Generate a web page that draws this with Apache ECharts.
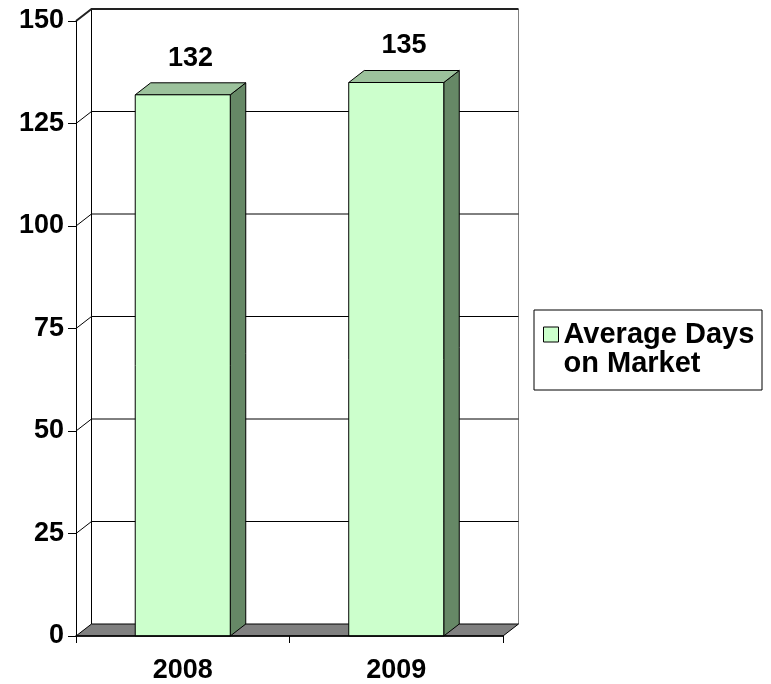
<!DOCTYPE html>
<html>
<head>
<meta charset="utf-8">
<script src="https://cdn.jsdelivr.net/npm/echarts@6/dist/echarts.min.js"></script>
<style>
html,body{margin:0;padding:0;background:#fff;}
#chart{width:771px;height:684px;}
</style>
</head>
<body>
<div id="chart"></div>
<script>
const categories = ['2008', '2009'];
const avgDays = [132, 135];
const yTicks = [0, 25, 50, 75, 100, 125, 150];
const seriesName = 'Average Days on Market';

const FONT = '"Liberation Sans", Arial, sans-serif';
const DX = 15.5, DY = -12;

const chart = echarts.init(document.getElementById('chart'));

function renderWall(params, api) {
  const cs = params.coordSys;
  const t = api.value(1);
  const y = api.coord([0, t])[1];
  const x0 = cs.x, x1 = cs.x + cs.width;
  if (params.dataIndex === 0) {
    return {
      type: 'group',
      children: [
        { type: 'rect', shape: { x: x0 + DX, y: cs.y + DY, width: cs.width, height: cs.height }, style: { fill: '#fff', stroke: null } },
        { type: 'line', shape: { x1: x0 + DX, y1: cs.y + DY, x2: x0 + DX, y2: y + DY }, style: { stroke: '#000', lineWidth: 1 } },
        { type: 'line', shape: { x1: x1 + DX, y1: cs.y + DY, x2: x1 + DX, y2: y + DY }, style: { stroke: '#808080', lineWidth: 1 } },
        { type: 'polygon', shape: { points: [[x0, y], [x1, y], [x1 + DX, y + DY], [x0 + DX, y + DY]] }, style: { fill: '#808080', stroke: '#000', lineWidth: 1 } }
      ]
    };
  }
  const isTop = t === yTicks[yTicks.length - 1];
  return {
    type: 'polyline',
    shape: { points: [[x0, y], [x0 + DX, y + DY], [x1 + DX, y + DY]] },
    style: { stroke: isTop ? '#222' : '#000', lineWidth: isTop ? 2 : 1, fill: null }
  };
}

function renderBar(params, api) {
  const i = api.value(0), v = api.value(1);
  const top = api.coord([i, v]);
  const bot = api.coord([i, 0]);
  const w = api.size([1, 0])[0] * 0.445;
  const xl = top[0] - w / 2, xr = top[0] + w / 2;
  const yt = top[1], yb = bot[1];
  return {
    type: 'group',
    children: [
      { type: 'polygon', shape: { points: [[xr, yt], [xr + DX, yt + DY], [xr + DX, yb + DY], [xr, yb]] }, style: { fill: '#668866', stroke: '#000', lineWidth: 1 } },
      { type: 'polygon', shape: { points: [[xl, yt], [xr, yt], [xr + DX, yt + DY], [xl + DX, yt + DY]] }, style: { fill: '#9CC29C', stroke: '#000', lineWidth: 1 } },
      { type: 'rect', shape: { x: xl, y: yt, width: w, height: yb - yt }, style: { fill: '#CCFFCC', stroke: '#000', lineWidth: 1 } },
      { type: 'text', style: { text: String(v), x: top[0] + DX / 2, y: yt + DY - 11, align: 'center', verticalAlign: 'bottom', fontSize: 27, fontWeight: 'bold', fontFamily: FONT, fill: '#000' } }
    ]
  };
}

const option = {
  animation: false,
  backgroundColor: '#fff',
  grid: { left: 76, right: 268, top: 21, bottom: 47 },
  legend: {
    data: [seriesName],
    left: 543,
    top: 291,
    padding: 0,
    icon: 'rect',
    itemWidth: 15,
    itemHeight: 15,
    itemGap: 0,
    itemStyle: { borderColor: '#000', borderWidth: 1 },
    formatter: function () { return '\nAverage Days\non Market'; },
    textStyle: { fontSize: 29, fontWeight: 'bold', fontFamily: FONT, color: '#000', lineHeight: 29 }
  },
  graphic: [
    { type: 'rect', shape: { x: 534, y: 310, width: 228, height: 80 }, style: { fill: 'none', stroke: '#000', lineWidth: 1 }, z: 100 }
  ],
  xAxis: {
    type: 'category',
    data: categories,
    z: 10,
    axisLine: { lineStyle: { color: '#000', width: 1.5 } },
    axisTick: { show: true, length: 7, lineStyle: { color: '#000' } },
    axisLabel: { fontSize: 27, fontWeight: 'bold', fontFamily: FONT, color: '#000', margin: 21 }
  },
  yAxis: {
    type: 'value',
    min: 0,
    max: 150,
    interval: 25,
    z: 10,
    axisLine: { show: true, lineStyle: { color: '#000', width: 1 } },
    axisTick: { show: true, length: 8, lineStyle: { color: '#000' } },
    axisLabel: { fontSize: 27, fontWeight: 'bold', fontFamily: FONT, color: '#000', margin: 12 },
    splitLine: { show: false }
  },
  series: [
    {
      type: 'custom',
      name: 'wall',
      silent: true,
      z: 1,
      data: yTicks.map(t => [0, t]),
      encode: { x: 0, y: 1 },
      renderItem: renderWall
    },
    {
      type: 'custom',
      name: seriesName,
      z: 3,
      itemStyle: { color: '#CCFFCC' },
      data: avgDays.map((v, i) => [i, v]),
      encode: { x: 0, y: 1 },
      renderItem: renderBar
    }
  ]
};
chart.setOption(option);
</script>
</body>
</html>
